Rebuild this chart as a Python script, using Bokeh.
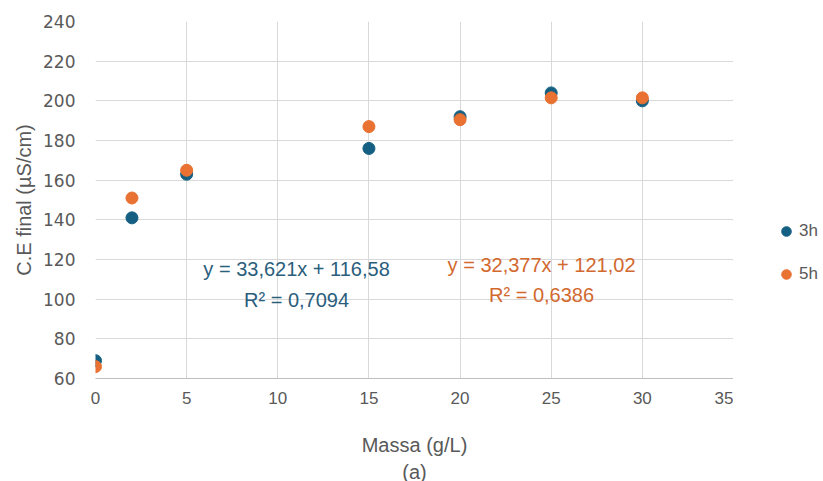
from bokeh.plotting import figure
from bokeh.layouts import row
from bokeh.models import (ColumnDataSource, Legend, LegendItem, Label, Title,
                          SingleIntervalTicker, Range1d)
from bokeh.embed import file_html
from bokeh.resources import INLINE

# ---- data ----
massa = [0, 2, 5, 15, 20, 25, 30]
ce_3h = [69, 141, 163, 176, 192, 204, 200]
ce_5h = [66, 151, 165, 187, 190.5, 201.5, 201.5]
series_names = ["3h", "5h"]
eq_3h = ["y = 33,621x + 116,58", "R² = 0,7094"]
eq_5h = ["y = 32,377x + 121,02", "R² = 0,6386"]

BLUE = "#156082"
ORANGE = "#E97132"
GRAY = "#595959"
FONT = "Liberation Sans"

p = figure(frame_width=638, frame_height=357, output_backend="svg", toolbar_location=None,
           x_range=Range1d(0, 35), y_range=Range1d(60, 240),
           min_border_left=95, min_border_right=0, min_border_top=21,
           min_border_bottom=0, outline_line_color=None)
p.background_fill_color = "white"
p.border_fill_color = "white"

src = ColumnDataSource(dict(x=massa, y3=ce_3h, y5=ce_5h))
r3 = p.scatter("x", "y3", source=src, size=12, color=BLUE, line_color=BLUE)
r5 = p.scatter("x", "y5", source=src, size=12, color=ORANGE, line_color=ORANGE)

p.xaxis.ticker = SingleIntervalTicker(interval=5)
p.yaxis.ticker = SingleIntervalTicker(interval=20)
p.xgrid.ticker = SingleIntervalTicker(interval=5)
p.ygrid.ticker = SingleIntervalTicker(interval=20)
p.grid.grid_line_color = "#D9D9D9"
p.grid.grid_line_width = 1

for ax in (p.xaxis[0], p.yaxis[0]):
    ax.major_tick_line_color = None
    ax.minor_tick_line_color = None
    ax.major_label_text_color = GRAY
    ax.axis_label_text_font = FONT
    ax.axis_label_text_font_size = "20px"
    ax.axis_label_text_color = GRAY
    ax.axis_label_text_font_style = "normal"

p.yaxis.major_label_text_font = "DejaVu Sans"
p.yaxis.major_label_text_font_size = "17px"
p.xaxis.major_label_text_font = FONT
p.xaxis.major_label_text_font_size = "17px"

p.yaxis.axis_line_color = None
p.yaxis.major_label_standoff = 14
p.yaxis.axis_label = "C.E final (µS/cm)"
p.yaxis.axis_label_standoff = 5
p.xaxis.axis_line_color = "#BFBFBF"
p.xaxis.major_label_standoff = 7
p.xaxis.axis_label = "Massa (g/L)"
p.xaxis.axis_label_standoff = 27

p.add_layout(Title(text="(a)", align="center", text_font=FONT, text_font_size="20px",
                   text_color=GRAY, text_font_style="normal", standoff=0), "below")

# trendline equations
for txt, xx, yy in zip(eq_3h, [11.03, 11.03], [114.96, 99.83]):
    p.add_layout(Label(x=xx, y=yy, text=txt, text_align="center", text_baseline="middle",
                       text_font=FONT, text_font_size="20px", text_color="#2A5E7C"))
for txt, xx, yy in zip(eq_5h, [24.47, 24.47], [116.98, 101.85]):
    p.add_layout(Label(x=xx, y=yy, text=txt, text_align="center", text_baseline="middle",
                       text_font=FONT, text_font_size="20px", text_color="#D2692F"))

# legend panel (separate narrow figure on the right, frame aligned with main plot)
p2 = figure(width=90, height=481, output_backend="svg", toolbar_location=None,
            x_range=Range1d(1000, 1001), y_range=Range1d(1000, 1001),
            x_axis_location=None, y_axis_location=None, min_border=0,
            outline_line_color=None)
p2.grid.visible = False
l3 = p2.scatter("x", "y3", source=src, size=10, color=BLUE, line_color=BLUE)
l5 = p2.scatter("x", "y5", source=src, size=10, color=ORANGE, line_color=ORANGE)
legend = Legend(items=[LegendItem(label=series_names[0], renderers=[l3]),
                       LegendItem(label=series_names[1], renderers=[l5])],
                location=(41, 91), orientation="vertical",
                glyph_width=24, glyph_height=24, label_height=24,
                spacing=19, padding=0, margin=0, label_standoff=1,
                label_text_font=FONT, label_text_font_size="17px",
                label_text_color=GRAY, border_line_color=None,
                background_fill_alpha=0)
p2.add_layout(legend, "center")

open("out.html", "w").write(file_html(row(p, p2), INLINE))
